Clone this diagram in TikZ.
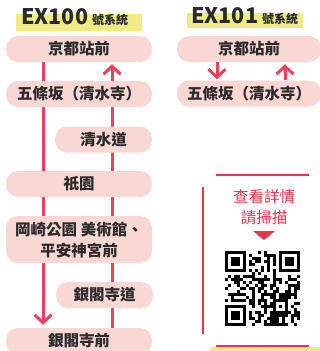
\documentclass[tikz,border=0pt]{standalone}
\usepackage{fontspec}
\newfontfamily\cjk{Noto Sans CJK TC}
\usetikzlibrary{arrows.meta}
\pgfdeclarelayer{background}
\pgfsetlayers{background,main}
\definecolor{boxpink}{HTML}{F9D8D4}
\definecolor{linered}{HTML}{EB405E}
\definecolor{hiyellow}{HTML}{F0EC84}
\definecolor{txt}{HTML}{2B2B2B}
\definecolor{scanred}{HTML}{E8354F}
\tikzset{
  stn/.style={fill=boxpink, rounded corners=12pt, minimum height=26pt, inner sep=0pt,
    font=\cjk\bfseries\fontsize{15.5}{21}\selectfont, text=txt, align=center},
  route/.style={draw=linered, line width=3pt},
  tipup/.style={-{Straight Barb[length=8pt,width=17pt]}},
  title/.style={anchor=base west, inner sep=0pt, font=\cjk\bfseries\fontsize{21.5}{22}\selectfont, text=txt},
  subtitle/.style={anchor=base west, inner sep=0pt, font=\cjk\bfseries\fontsize{12}{12}\selectfont, text=txt},
  scantxt/.style={inner sep=0pt, align=center, font=\cjk\fontsize{15.5}{21}\selectfont, text=scanred},
  frameline/.style={draw=scanred, line width=2pt}
}
\begin{document}
\begin{tikzpicture}[x=1pt,y=-1pt]
\useasboundingbox (0,0) rectangle (320,351);
\clip (0,0) rectangle (320,351);
% titles
\fill[hiyellow] (16,14) rectangle (142,31);
\node[title] (t100) at (21,24) {EX100};
\node[subtitle] (t100s) at (92,24) {號系統};
\fill[hiyellow] (187,13) rectangle (303,28);
\node[title] (t101) at (191,23) {EX101};
\node[subtitle] (t101s) at (262,23) {號系統};
% left stations
\node[stn, minimum width=146pt] (k1) at (79,49) {京都站前};
\node[stn, minimum width=146pt] (g1) at (79,94) {五條坂（清水寺）};
\node[stn, minimum width=97pt] (qs) at (103.5,139.5) {清水道};
\node[stn, minimum width=146pt] (gi) at (79,184) {祇園};
\node[stn, minimum width=146pt, minimum height=47pt] (ok) at (79,239.5) {岡崎公園 美術館、\\平安神宮前};
\node[stn, minimum width=97pt] (gd) at (104.5,295) {銀閣寺道};
\node[stn, minimum width=146pt] (gm) at (79,341) {銀閣寺前};
% right stations
\node[stn, minimum width=144pt] (rk) at (249,49) {京都站前};
\node[stn, minimum width=144pt] (rg) at (249,93.5) {五條坂（清水寺）};
% line guides
\coordinate (L) at (43,0);
\coordinate (R) at (112,0);
\coordinate (RL) at (217,0);
\coordinate (RR) at (285,0);
\begin{pgfonlayer}{background}
\draw[route, tipup, shorten >=3pt] (k1.south -| L) -- (gm.north -| L);
\draw[route, tipup, shorten >=2pt] (gm.north -| R) -- (k1.south -| R);
\end{pgfonlayer}
\draw[route, tipup, shorten >=1pt] (rk.south -| RL) -- (rg.north -| RL);
\draw[route, tipup, shorten >=2pt] (rg.north -| RR) -- (rk.south -| RR);
% scan panel
\draw[frameline] (216,175) -- (309,175);
\draw[frameline] (203,187) -- (203,334);
\fill[hiyellow] (210,347) rectangle (322,353);
\draw[frameline] (216,346) -- (309,346);
\node[scantxt] (scan) at (264,207.5) {查看詳情\\請掃描};
\fill[scanred] (253,231) -- (275,231) -- (264,240) -- cycle;
% QR code
\begin{scope}[shift={(225,251)}]
  \pgfmathsetseed{20}
  \foreach \i in {0,...,24}{
    \foreach \j in {0,...,24}{
      \pgfmathtruncatemacro\qskip{((\i<8)&&(\j<8))||((\i>16)&&(\j<8))||((\i<8)&&(\j>16))||((\i>15)&&(\i<21)&&(\j>15)&&(\j<21))||(\i==6)||(\j==6)}
      \ifnum\qskip=0
        \pgfmathtruncatemacro\qbit{rnd<0.5}
        \ifnum\qbit=1
          \fill ({3*\i},{3*\j}) rectangle ++(3.05,3.05);
        \fi
      \fi
    }
  }
  \foreach \k in {8,10,...,16}{
    \fill ({3*\k},18) rectangle ++(3.05,3.05);
    \fill (18,{3*\k}) rectangle ++(3.05,3.05);
  }
  \foreach \ox/\oy in {0/0,54/0,0/54}{
    \fill (\ox,\oy) rectangle ++(21,21);
    \fill[white] ({\ox+3},{\oy+3}) rectangle ++(15,15);
    \fill ({\ox+6},{\oy+6}) rectangle ++(9,9);
  }
  \fill (48,48) rectangle (63,63);
  \fill[white] (51,51) rectangle (60,60);
  \fill (54,54) rectangle (57,57);
\end{scope}
\end{tikzpicture}
\end{document}
